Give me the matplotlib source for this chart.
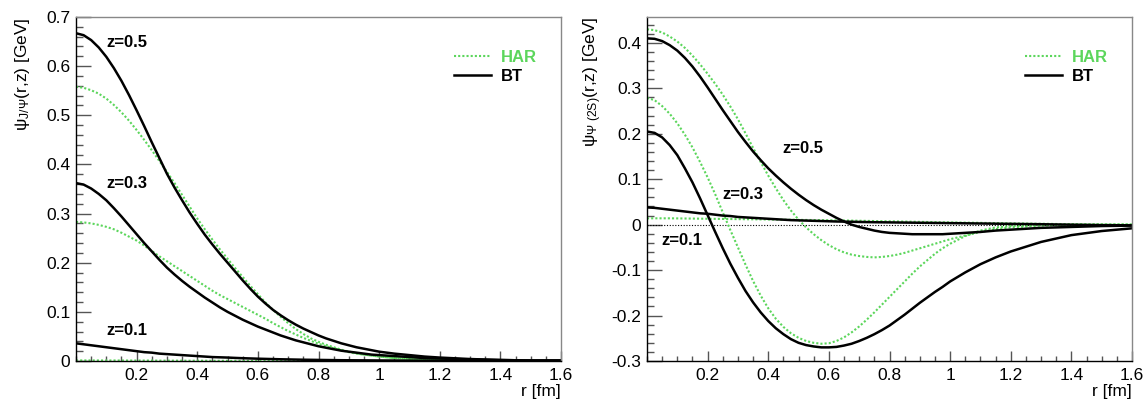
import matplotlib
matplotlib.use('Agg')
import matplotlib.pyplot as plt
import numpy as np
from matplotlib.ticker import MultipleLocator, FuncFormatter
from matplotlib.lines import Line2D

plt.rcParams['font.family'] = ['Liberation Sans', 'DejaVu Sans']
plt.rcParams['mathtext.fontset'] = 'custom'
plt.rcParams['mathtext.rm'] = 'Liberation Sans'
plt.rcParams['mathtext.it'] = 'Liberation Sans:italic'
plt.rcParams['mathtext.bf'] = 'Liberation Sans:bold'

# r grid [fm]
r_vals = [0.000, 0.025, 0.050, 0.075, 0.100, 0.125, 0.150, 0.175, 0.200, 0.225,
          0.250, 0.275, 0.300, 0.325, 0.350, 0.375, 0.400, 0.425, 0.450, 0.475,
          0.500, 0.525, 0.550, 0.575, 0.600, 0.625, 0.650, 0.675, 0.700, 0.725,
          0.750, 0.775, 0.800, 0.825, 0.850, 0.875, 0.900, 0.925, 0.950, 0.975,
          1.000, 1.050, 1.100, 1.150, 1.200, 1.300, 1.400, 1.500, 1.600]

# J/psi, left panel
jpsi_bt_05 = [0.667, 0.663, 0.653, 0.638, 0.619, 0.596, 0.570, 0.541, 0.510, 0.478,
              0.445, 0.413, 0.381, 0.353, 0.327, 0.302, 0.279, 0.257, 0.237, 0.218,
              0.200, 0.182, 0.164, 0.147, 0.131, 0.117, 0.104, 0.093, 0.083, 0.074,
              0.066, 0.059, 0.052, 0.046, 0.041, 0.036, 0.032, 0.028, 0.025, 0.022,
              0.019, 0.015, 0.012, 0.009, 0.007, 0.004, 0.002, 0.001, 0.001]
jpsi_har_05 = [0.558, 0.556, 0.551, 0.544, 0.534, 0.521, 0.506, 0.489, 0.470, 0.450,
               0.429, 0.407, 0.385, 0.362, 0.338, 0.314, 0.290, 0.268, 0.247, 0.227,
               0.208, 0.189, 0.171, 0.153, 0.136, 0.119, 0.104, 0.090, 0.077, 0.065,
               0.055, 0.046, 0.039, 0.033, 0.028, 0.023, 0.019, 0.016, 0.013, 0.011,
               0.009, 0.006, 0.004, 0.003, 0.002, 0.001, 0.0005, 0.0, 0.0]
jpsi_bt_03 = [0.362, 0.359, 0.351, 0.340, 0.327, 0.311, 0.294, 0.276, 0.258, 0.240,
              0.223, 0.206, 0.190, 0.176, 0.163, 0.151, 0.140, 0.129, 0.119, 0.109,
              0.100, 0.092, 0.084, 0.077, 0.070, 0.064, 0.058, 0.052, 0.047, 0.042,
              0.038, 0.034, 0.030, 0.027, 0.024, 0.021, 0.019, 0.017, 0.015, 0.013,
              0.012, 0.010, 0.008, 0.006, 0.005, 0.003, 0.002, 0.001, 0.001]
jpsi_har_03 = [0.283, 0.282, 0.280, 0.277, 0.273, 0.268, 0.261, 0.253, 0.245, 0.235,
               0.224, 0.213, 0.203, 0.193, 0.183, 0.173, 0.163, 0.153, 0.143, 0.134,
               0.126, 0.118, 0.110, 0.102, 0.094, 0.086, 0.077, 0.069, 0.061, 0.054,
               0.047, 0.041, 0.035, 0.030, 0.026, 0.022, 0.018, 0.015, 0.013, 0.011,
               0.009, 0.006, 0.004, 0.003, 0.002, 0.001, 0.0005, 0.0, 0.0]
jpsi_bt_01 = [0.036, 0.034, 0.032, 0.030, 0.028, 0.026, 0.024, 0.022, 0.020, 0.018,
              0.017, 0.015, 0.014, 0.013, 0.012, 0.011, 0.010, 0.009, 0.008, 0.0075,
              0.007, 0.0063, 0.0057, 0.0052, 0.0047, 0.0043, 0.0039, 0.0035, 0.0032, 0.0029,
              0.0026, 0.0024, 0.0022, 0.0020, 0.0018, 0.0016, 0.0015, 0.0014, 0.0013, 0.0012,
              0.0011, 0.0010, 0.0008, 0.0007, 0.0006, 0.0005, 0.0004, 0.0003, 0.0003]
jpsi_har_01 = [0.0012, 0.0012, 0.0012, 0.0011, 0.0011, 0.0011, 0.0010, 0.0010, 0.0010, 0.0009,
               0.0009, 0.0008, 0.0008, 0.0007, 0.0007, 0.0006, 0.0006, 0.0005, 0.0005, 0.0004,
               0.0004, 0.0004, 0.0003, 0.0003, 0.0003, 0.0002, 0.0002, 0.0002, 0.0002, 0.0001,
               0.0001, 0.0001, 0.0001, 0.0001, 0.0001, 0.0, 0.0, 0.0, 0.0, 0.0,
               0.0, 0.0, 0.0, 0.0, 0.0, 0.0, 0.0, 0.0, 0.0]

# psi(2S), right panel
psi2s_bt_05 = [0.410, 0.409, 0.404, 0.395, 0.383, 0.367, 0.348, 0.326, 0.302, 0.277,
               0.252, 0.228, 0.204, 0.182, 0.161, 0.142, 0.124, 0.108, 0.093, 0.079,
               0.066, 0.054, 0.043, 0.033, 0.024, 0.015, 0.007, 0.000, -0.005, -0.009,
               -0.013, -0.016, -0.018, -0.019, -0.020, -0.021, -0.021, -0.021, -0.021, -0.021,
               -0.020, -0.018, -0.016, -0.013, -0.011, -0.007, -0.005, -0.003, -0.002]
psi2s_har_05 = [0.430, 0.428, 0.423, 0.414, 0.403, 0.389, 0.372, 0.353, 0.332, 0.310,
                0.286, 0.260, 0.232, 0.201, 0.169, 0.138, 0.108, 0.080, 0.054, 0.031,
                0.011, -0.006, -0.021, -0.034, -0.045, -0.054, -0.061, -0.066, -0.069, -0.071,
                -0.072, -0.071, -0.069, -0.066, -0.062, -0.057, -0.052, -0.047, -0.042, -0.037,
                -0.032, -0.024, -0.016, -0.010, -0.006, -0.002, 0.0, 0.0, 0.0]
psi2s_bt_03 = [0.205, 0.202, 0.192, 0.175, 0.153, 0.124, 0.093, 0.058, 0.021, -0.016,
               -0.052, -0.086, -0.117, -0.146, -0.171, -0.193, -0.212, -0.228, -0.241, -0.252,
               -0.260, -0.265, -0.268, -0.270, -0.270, -0.269, -0.266, -0.262, -0.256, -0.249,
               -0.241, -0.232, -0.222, -0.210, -0.198, -0.185, -0.172, -0.160, -0.148, -0.137,
               -0.125, -0.105, -0.087, -0.072, -0.059, -0.038, -0.023, -0.014, -0.008]
psi2s_har_03 = [0.279, 0.274, 0.261, 0.244, 0.223, 0.198, 0.170, 0.138, 0.104, 0.067,
                0.027, -0.012, -0.050, -0.088, -0.124, -0.156, -0.184, -0.207, -0.225, -0.239,
                -0.249, -0.256, -0.260, -0.262, -0.261, -0.256, -0.248, -0.237, -0.224, -0.209,
                -0.193, -0.176, -0.159, -0.142, -0.125, -0.108, -0.092, -0.078, -0.064, -0.052,
                -0.042, -0.025, -0.013, -0.006, -0.003, -0.001, 0.0, 0.0, 0.0]
psi2s_bt_01 = [0.038, 0.037, 0.035, 0.033, 0.031, 0.029, 0.027, 0.025, 0.024, 0.022,
               0.020, 0.019, 0.017, 0.016, 0.015, 0.014, 0.013, 0.012, 0.011, 0.010,
               0.0095, 0.009, 0.0085, 0.008, 0.0075, 0.007, 0.0067, 0.0064, 0.006, 0.0057,
               0.0054, 0.0052, 0.005, 0.0048, 0.0046, 0.0044, 0.0042, 0.004, 0.0038, 0.0036,
               0.0034, 0.003, 0.0026, 0.0022, 0.0018, 0.001, 0.0, -0.001, -0.0015]
psi2s_har_01 = [0.014, 0.014, 0.014, 0.014, 0.0138, 0.0136, 0.0134, 0.0132, 0.013, 0.0128,
                0.0126, 0.0124, 0.0122, 0.012, 0.0118, 0.0116, 0.0114, 0.0112, 0.011, 0.0108,
                0.0106, 0.0104, 0.0102, 0.010, 0.0098, 0.0095, 0.0092, 0.0089, 0.0086, 0.0083,
                0.008, 0.0077, 0.0074, 0.0071, 0.0068, 0.0065, 0.0062, 0.0059, 0.0056, 0.0053,
                0.005, 0.0045, 0.004, 0.0035, 0.003, 0.002, 0.001, 0.0005, 0.0]

z_labels = ['z=0.5', 'z=0.3', 'z=0.1']
legend_labels = ['HAR', 'BT']

green = '#5cd65c'
fig = plt.figure(figsize=(11.46, 4.11), dpi=100)
ax1 = fig.add_axes([76 / 1146, 50 / 411, 485 / 1146, 344 / 411])
ax2 = fig.add_axes([647 / 1146, 50 / 411, 485 / 1146, 344 / 411])


def style(ax, ymin, ymax, ylabel):
    ax.set_xlim(0, 1.6)
    ax.set_ylim(ymin, ymax)
    ax.set_xticks(np.arange(0.2, 1.61, 0.2))
    ax.xaxis.set_minor_locator(MultipleLocator(0.05))
    ax.yaxis.set_major_locator(MultipleLocator(0.1))
    ax.yaxis.set_minor_locator(MultipleLocator(0.02))
    fmt = FuncFormatter(lambda v, p: f'{v:.1f}'.rstrip('0').rstrip('.') if abs(v) > 1e-9 else '0')
    ax.xaxis.set_major_formatter(fmt)
    ax.yaxis.set_major_formatter(fmt)
    ax.tick_params(which='both', direction='in', top=False, right=False, color='#555555',
                   labelsize=12.5, width=1)
    ax.tick_params(axis='y', which='major', length=10.5, pad=4)
    ax.tick_params(axis='y', which='minor', length=5.2)
    ax.tick_params(axis='x', which='major', length=7.2, pad=5)
    ax.tick_params(axis='x', which='minor', length=3.6)
    for s in ['top', 'right']:
        ax.spines[s].set_color('#888888')
    for s in ['left', 'bottom']:
        ax.spines[s].set_color('black')
    for s in ax.spines.values():
        s.set_linewidth(1)
    ax.text(1.0, -0.068, 'r [fm]', transform=ax.transAxes, ha='right', va='top', fontsize=12.5)
    ax.text(-0.111, 1.0, ylabel, transform=ax.transAxes, ha='center', va='top',
            rotation=90, fontsize=12.5)
    handles = [Line2D([], [], color=green, lw=1.5, ls=(0, (1, 1))),
               Line2D([], [], color='black', lw=1.8)]
    leg = ax.legend(handles, legend_labels, loc='upper left', bbox_to_anchor=(0.78, 0.905),
                    frameon=False, prop={'weight': 'bold', 'size': 12}, handlelength=2.2,
                    handletextpad=0.6, labelspacing=0.25, borderpad=0, borderaxespad=0)
    leg.get_texts()[0].set_color(green)


dot = (0, (1, 1))
ax1.plot(r_vals, jpsi_har_05, color=green, lw=1.5, ls=dot)
ax1.plot(r_vals, jpsi_har_03, color=green, lw=1.5, ls=dot)
ax1.plot(r_vals, jpsi_har_01, color=green, lw=1.5, ls=dot)
ax1.plot(r_vals, jpsi_bt_05, color='black', lw=1.8)
ax1.plot(r_vals, jpsi_bt_03, color='black', lw=1.8)
ax1.plot(r_vals, jpsi_bt_01, color='black', lw=1.8)
style(ax1, 0, 0.7, r'ψ$_{\mathrm{J/\Psi}}$(r,z) [GeV]')
ax1.text(0.099, 0.649, z_labels[0], fontsize=12, fontweight='bold', va='center')
ax1.text(0.099, 0.362, z_labels[1], fontsize=12, fontweight='bold', va='center')
ax1.text(0.099, 0.063, z_labels[2], fontsize=12, fontweight='bold', va='center')

ax2.axhline(0, color='black', lw=0.8, ls=(0, (1, 1.5)))
ax2.plot(r_vals, psi2s_har_05, color=green, lw=1.5, ls=dot)
ax2.plot(r_vals, psi2s_har_03, color=green, lw=1.5, ls=dot)
ax2.plot(r_vals, psi2s_har_01, color=green, lw=1.5, ls=dot)
ax2.plot(r_vals, psi2s_bt_05, color='black', lw=1.8)
ax2.plot(r_vals, psi2s_bt_03, color='black', lw=1.8)
ax2.plot(r_vals, psi2s_bt_01, color='black', lw=1.8)
style(ax2, -0.3, 0.457, r'ψ$_{\mathrm{\Psi\ (2S)}}$(r,z) [GeV]')
ax2.text(0.446, 0.167, z_labels[0], fontsize=12, fontweight='bold', va='center')
ax2.text(0.25, 0.067, z_labels[1], fontsize=12, fontweight='bold', va='center')
ax2.text(0.049, -0.035, z_labels[2], fontsize=12, fontweight='bold', va='center')

fig.savefig('out.png', dpi=100)
